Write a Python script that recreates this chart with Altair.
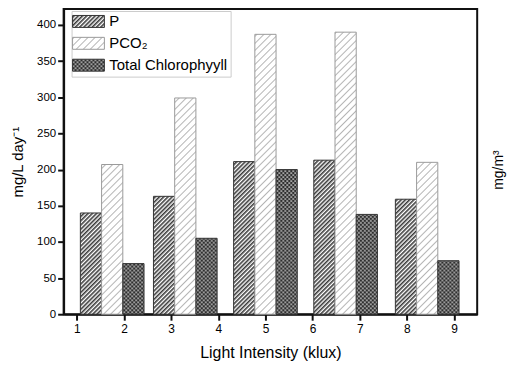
import altair as alt
import pandas as pd
from jinja2 import Template

# ---------------- data ----------------
series = ["P", "PCO₂", "Total Chlorophyyll"]
group_centers = [1.75, 3.3, 5.0, 6.7, 8.43]
p_values = [140, 163, 211, 213, 159]
pco2_values = [207, 299, 387, 390, 210]
chl_values = [70, 105, 200, 138, 74]
x_tick_values = [1, 2, 3, 4, 5, 6, 7, 8, 9]
y_tick_values = [0, 50, 100, 150, 200, 250, 300, 350, 400]

rows = []
for idx, (name, vals) in enumerate(zip(series, [p_values, pco2_values, chl_values])):
    for c, v in zip(group_centers, vals):
        rows.append({"series": name, "idx": idx, "center": c, "value": v})
df = pd.DataFrame(rows)

FONT = "Liberation Sans"
BAR_W = 0.45
INK = "#111111"

fills = ["url(#hatchP)", "url(#hatchPCO2)", "url(#dotsCHL)"]
strokes = ["#333333", "#9a9a9a", "#333333"]

legend = alt.Legend(
    title=None,
    orient="none",
    legendX=8,
    legendY=2,
    labelFont=FONT,
    labelFontSize=15,
    symbolType="M-2.667,-1H2.667V1H-2.667Z",
    symbolSize=144,
    symbolStrokeWidth=1,
    symbolOffset=6.5,
    labelOffset=13.5,
    rowPadding=5,
    padding=3,
    strokeColor="#cccccc",
    fillColor="#ffffff",
)

axis_common = dict(
    grid=False,
    domainColor=INK,
    domainWidth=2,
    tickColor=INK,
    tickWidth=2,
    tickSize=6,
    labelFont=FONT,
    titleFont=FONT,
    titleFontWeight="normal",
)

bars = (
    alt.Chart(df)
    .transform_calculate(
        x0=f"datum.center + (datum.idx - 1.5) * {BAR_W}",
        x1=f"datum.center + (datum.idx - 0.5) * {BAR_W}",
    )
    .mark_bar(strokeWidth=1)
    .encode(
        x=alt.X(
            "x0:Q",
            scale=alt.Scale(domain=[0.72, 9.49], nice=False, zero=False),
            axis=alt.Axis(
                values=x_tick_values,
                format="d",
                title="Light Intensity (klux)",
                titleFontSize=16,
                titlePadding=11,
                labelFontSize=12,
                labelPadding=3,
                **axis_common,
            ),
        ),
        x2="x1:Q",
        y=alt.Y(
            "value:Q",
            scale=alt.Scale(domain=[0, 422], nice=False),
            axis=alt.Axis(
                values=y_tick_values,
                title="mg/L day⁻¹",
                titleFontSize=15,
                titlePadding=11,
                labelFontSize=11.5,
                labelPadding=2,
                **axis_common,
            ),
        ),
        y2=alt.datum(0),
        fill=alt.Fill("series:N", scale=alt.Scale(domain=series, range=fills), legend=legend),
        stroke=alt.Stroke("series:N", scale=alt.Scale(domain=series, range=strokes), legend=legend),
    )
)

right_title = (
    alt.Chart(alt.Data(values=[{"t": "mg/m³"}]))
    .mark_text(angle=270, font=FONT, fontSize=14, align="center", baseline="middle")
    .encode(text="t:N", x=alt.value(438), y=alt.value(162))
)

chart = (
    alt.layer(bars, right_title)
    .properties(
        width=416,
        height=307,
        padding={"left": 10, "top": 8, "right": 2, "bottom": 2},
    )
    .configure_view(stroke=INK, strokeWidth=2)
)

TEMPLATE = Template("""<!DOCTYPE html>
<html>
<head>
  <meta charset="utf-8">
  <style>
    body { margin: 0; }
    #{{ output_div }}.vega-embed { width: 100%; display: flex; }
    #{{ output_div }}.vega-embed details,
    #{{ output_div }}.vega-embed details summary { position: relative; }
  </style>
  <script type="text/javascript" src="{{ base_url }}/vega@{{ vega_version }}"></script>
  {%- if mode == 'vega-lite' %}
  <script type="text/javascript" src="{{ base_url }}/vega-lite@{{ vegalite_version }}"></script>
  {%- endif %}
  <script type="text/javascript" src="{{ base_url }}/vega-embed@{{ vegaembed_version }}"></script>
</head>
<body>
  <svg width="0" height="0" style="position:absolute" aria-hidden="true">
    <defs>
      <pattern id="hatchP" patternUnits="userSpaceOnUse" width="3" height="3" patternTransform="rotate(45)">
        <rect width="3" height="3" fill="#ffffff"/>
        <rect width="1.6" height="3" fill="#3a3a3a"/>
      </pattern>
      <pattern id="hatchPCO2" patternUnits="userSpaceOnUse" width="5" height="5" patternTransform="rotate(45)">
        <rect width="5" height="5" fill="#ffffff"/>
        <rect width="1" height="5" fill="#b5b5b5"/>
      </pattern>
      <pattern id="dotsCHL" patternUnits="userSpaceOnUse" width="4" height="4">
        <rect width="4" height="4" fill="#2e2e2e"/>
        <circle cx="1" cy="1" r="0.85" fill="#ffffff"/>
        <circle cx="3" cy="3" r="0.85" fill="#ffffff"/>
      </pattern>
    </defs>
  </svg>
  <div id="{{ output_div }}"></div>
  <script>
    (function(vegaEmbed) {
      var spec = {{ spec }};
      var embedOpt = {{ embed_options }};
      function showError(el, error){
          el.innerHTML = ('<div style="color:red;"><p>JavaScript Error: ' + error.message + '</p></div>');
          throw error;
      }
      const el = document.getElementById('{{ output_div }}');
      vegaEmbed("#{{ output_div }}", spec, embedOpt)
        .catch(error => showError(el, error));
    })(vegaEmbed);
  </script>
</body>
</html>""")

chart.save("out.html", embed_options={"renderer": "svg", "actions": False}, template=TEMPLATE)
